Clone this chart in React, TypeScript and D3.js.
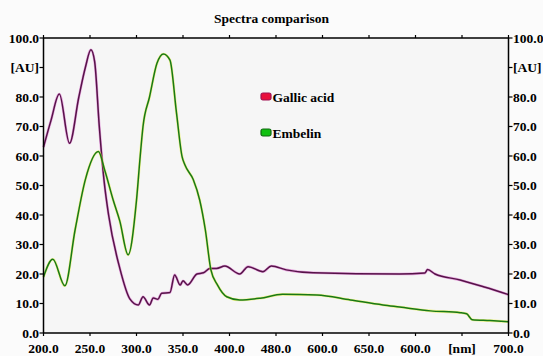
import * as d3 from "d3";

// wavelength (nm) and absorbance (AU)
const gallicNm = [200, 208, 217, 228, 238, 245, 251, 255, 260, 265, 270, 282, 293, 302, 307, 314, 318, 323, 327, 336, 341, 347, 350, 355, 365, 372, 379, 386, 395, 411, 420, 436, 445, 461, 490, 583, 610, 613, 621, 648, 675, 700];
const gallicAU = [63, 72, 81, 64.3, 80, 90, 96, 92, 70, 52, 40, 22, 11.5, 9.5, 12.3, 9.5, 11.9, 11.4, 13.5, 13.7, 19.7, 16.3, 17.7, 16.3, 20, 20.4, 21.9, 21.9, 22.7, 20, 22.5, 20.8, 22.7, 21.4, 20.4, 20, 20.3, 21.5, 20, 18, 15.5, 13];

const embelinNm = [200, 210, 223, 234, 245, 259, 266, 275, 282, 291, 300, 304, 307, 314, 322, 329, 336, 343, 349, 352, 361, 368, 374, 380, 387, 397, 411, 433, 457, 494, 530, 565, 583, 616, 648, 655, 661, 680, 700];
const embelinAU = [19, 25, 16, 35, 52, 61.5, 55, 45, 38, 26.5, 45, 60, 70, 80, 91.4, 94.6, 92.5, 74.6, 59.8, 57, 52, 45, 35, 21.4, 16.3, 12.3, 11.2, 11.8, 13.1, 12.9, 11.2, 9.5, 8.8, 7.5, 6.9, 6.5, 4.5, 4.2, 3.8];

const xTicks = [200, 250, 300, 350, 400, 450, 500, 550, 600, 650, 700];
const xTickLabels = ["200.0", "250.0", "300.0", "350.0", "400.0", "480.0", "600.0", "650.0", "600.0", "[nm]", "700.0"];
const yTicks = [0, 10, 20, 30, 40, 50, 60, 70, 80, 90, 100];
const yTickLabels = ["0.0", "10.0", "20.0", "30.0", "40.0", "50.0", "60.0", "70.0", "80.0", "[AU]", "100.0"];

const series = [
  { name: "Gallic acid", nm: gallicNm, au: gallicAU, line: "#561448", halo: "#d850c8", fill: "#e8103c", border: "#a01050" },
  { name: "Embelin", nm: embelinNm, au: embelinAU, line: "#187818", halo: "#e8f020", fill: "#10c010", border: "#106810" },
];

const FONT = "Liberation Serif, DejaVu Serif, Times New Roman, Times, serif";

export default function App() {
  const W = 543, H = 356;
  const x = d3.scaleLinear().domain([200, 700]).range([43.5, 508.5]);
  const y = d3.scaleLinear().domain([0, 100]).range([333, 38]);

  const line = d3.line<[number, number]>()
    .x(d => x(d[0]))
    .y(d => y(d[1]))
    .curve(d3.curveMonotoneX);

  const [x0, x1] = x.range();
  const [y0, y1] = y.range();

  return (
    <svg width={W} height={H}
      style={{ position: "absolute", left: 0, top: 0, background: "#fbfbfb" }}>
      <g style={{ fontFamily: FONT, fontWeight: 700 }}>
      <rect x={x0} y={y1} width={x1 - x0} height={y0 - y1} fill="#f6f6f6" />
      <text x={271.5} y={23} textAnchor="middle" fontSize={13.5}>Spectra comparison</text>

      {series.map(s => {
        const pts = s.nm.map((n, i) => [n, s.au[i]] as [number, number]);
        const d = line(pts) || "";
        return (
          <g key={s.name}>
            <path d={d} fill="none" stroke={s.halo} strokeWidth={2.6} strokeOpacity={0.5} />
            <path d={d} fill="none" stroke={s.line} strokeWidth={1.5} />
          </g>
        );
      })}

      {/* frame */}
      <g stroke="#000" strokeWidth={1.5} fill="none">
        <line x1={x0} x2={x1} y1={y0} y2={y0} />
        <line x1={x0} x2={x1} y1={y1} y2={y1} />
        <line x1={x0} x2={x0} y1={y0} y2={y1} />
        <line x1={x1} x2={x1} y1={y0} y2={y1} />
      </g>

      {/* x ticks */}
      {xTicks.map((t, i) => (
        <g key={"x" + t}>
          <line x1={x(t)} x2={x(t)} y1={y0} y2={y0 + 3} stroke="#000" strokeWidth={1.2} />
          <line x1={x(t)} x2={x(t)} y1={y1} y2={y1 - 3} stroke="#000" strokeWidth={1.2} />
          <text x={x(t)} y={353} textAnchor="middle" fontSize={13.5}>{xTickLabels[i]}</text>
        </g>
      ))}

      {/* y ticks, both sides */}
      {yTicks.map((t, i) => (
        <g key={"y" + t}>
          <line x1={x0 - 4} x2={x0} y1={y(t)} y2={y(t)} stroke="#000" strokeWidth={1.2} />
          <line x1={x1} x2={x1 + 4} y1={y(t)} y2={y(t)} stroke="#000" strokeWidth={1.2} />
          <text x={x0 - 4.5} y={y(t)} dy="0.35em" textAnchor="end" fontSize={13.5}>{yTickLabels[i]}</text>
          <text x={x1 + 4.5} y={y(t)} dy="0.35em" textAnchor="start" fontSize={13.5}>{yTickLabels[i]}</text>
        </g>
      ))}

      {/* legend */}
      {series.map((s, i) => (
        <g key={"lg" + s.name} transform={`translate(261, ${93 + i * 36})`}>
          <rect x={0} y={0} width={10} height={7} rx={2} fill={s.fill} stroke={s.border} strokeWidth={1.2} />
          <text x={11.5} y={8.5} fontSize={13.5}>{s.name}</text>
        </g>
      ))}
      </g>
    </svg>
  );
}
